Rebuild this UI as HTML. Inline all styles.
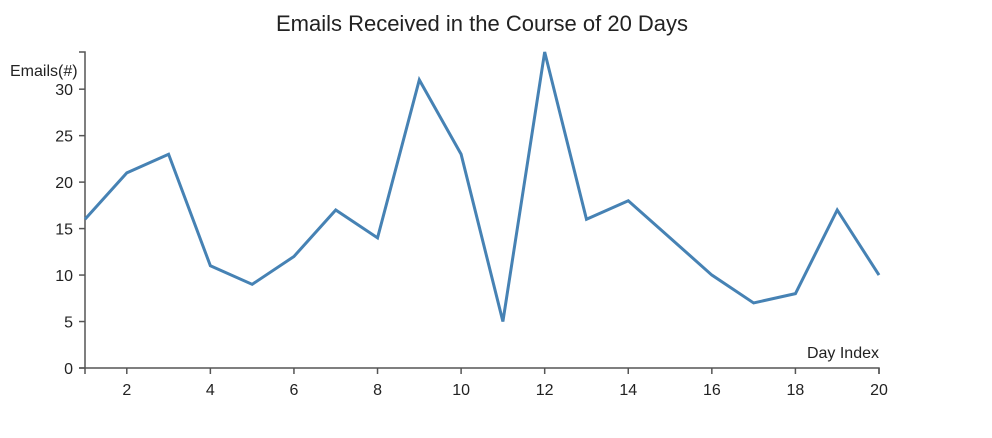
<!DOCTYPE html>
<html><head><meta charset="utf-8"><style>
body{margin:0;background:#fff;font-family:"Liberation Sans",Arial,sans-serif}
svg text{font-family:"Liberation Sans",Arial,sans-serif;fill:#222}
</style></head><body>
<svg width="992" height="433">
<text x="482" y="31" text-anchor="middle" font-size="22">Emails Received in the Course of 20 Days</text>
<g id="axes"></g>
<path id="line" fill="none" stroke="#4682b4" stroke-width="3"></path>
<text x="10" y="76" font-size="16">Emails(#)</text>
<text x="879" y="358" text-anchor="end" font-size="16">Day Index</text>
</svg>
<script>
const days=[1,2,3,4,5,6,7,8,9,10,11,12,13,14,15,16,17,18,19,20];
const emails=[16,21,23,11,9,12,17,14,31,23,5,34,16,18,14,10,7,8,17,10];
const yTicks=[0,5,10,15,20,25,30];
const xTicks=[2,4,6,8,10,12,14,16,18,20];
const X0=85,X1=879,Y0=368,Y1=52;
const xMin=1,xMax=20,yMax=34;
const xs=v=>X0+(v-xMin)/(xMax-xMin)*(X1-X0);
const ys=v=>Y0-v/yMax*(Y0-Y1);
const NS="http://www.w3.org/2000/svg";
const g=document.getElementById('axes');
function mk(t,a){const e=document.createElementNS(NS,t);for(const k in a)e.setAttribute(k,a[k]);g.appendChild(e);return e;}
let e=mk('path',{d:`M${X0-6},${Y1}H${X0}V${Y0}H${X0-6}`,fill:'none',stroke:'#555','stroke-width':1.5});


e=mk('path',{d:`M${X0},${Y0+6}V${Y0}H${X1}V${Y0+6}`,fill:'none',stroke:'#555','stroke-width':1.5});


yTicks.forEach(v=>{
 mk('line',{x1:X0-6,x2:X0,y1:ys(v),y2:ys(v),stroke:'#555','stroke-width':1.5});
 const t=mk('text',{x:X0-12,y:ys(v)+6,'text-anchor':'end','font-size':16});
 t.textContent=v;
 
 
});
xTicks.forEach(v=>{
 mk('line',{x1:xs(v),x2:xs(v),y1:Y0,y2:Y0+6,stroke:'#555','stroke-width':1.5});
 const t=mk('text',{x:xs(v),y:Y0+27,'text-anchor':'middle','font-size':16});
 t.textContent=v;
 
 
});
document.getElementById('line').setAttribute('d',days.map((d,i)=>(i?'L':'M')+xs(d)+','+ys(emails[i])).join(''));
</script>
</body></html>
